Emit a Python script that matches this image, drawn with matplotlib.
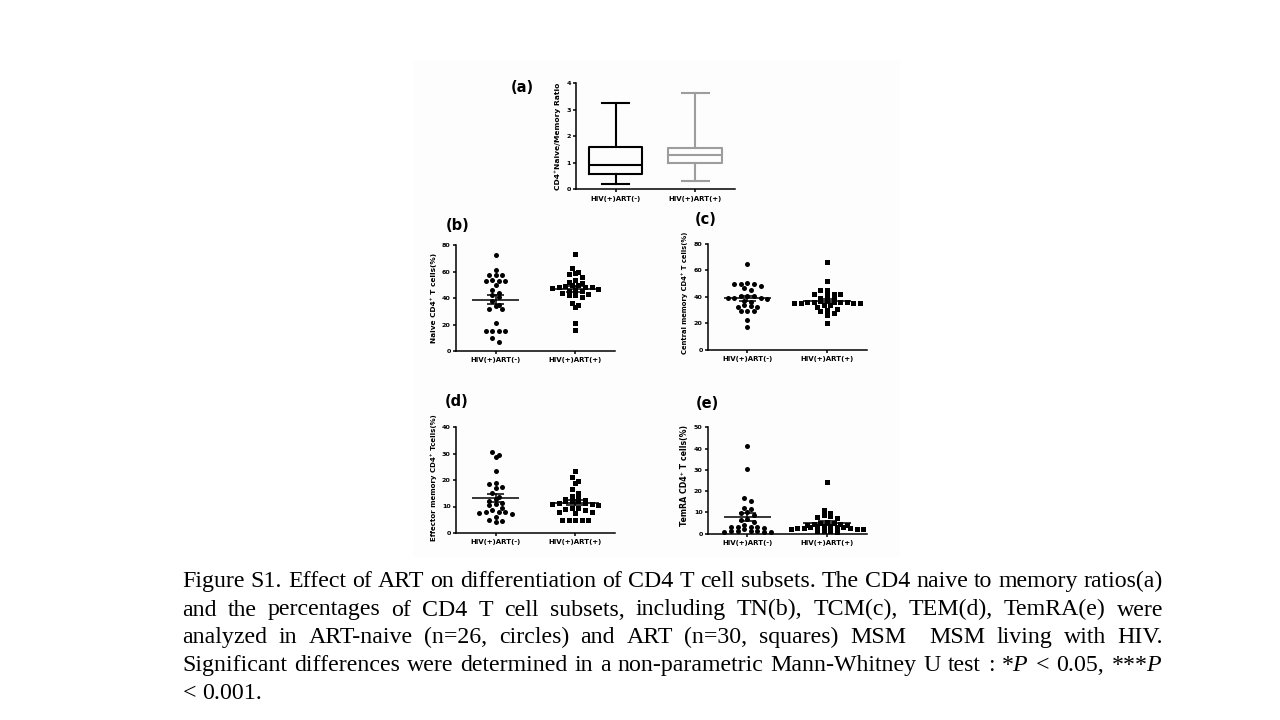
import numpy as np
import matplotlib
matplotlib.use("Agg")
import matplotlib.pyplot as plt
from matplotlib.patches import Rectangle

plt.rcParams['font.family'] = ['DejaVu Sans']
plt.rcParams['mathtext.fontset'] = 'custom'
plt.rcParams['mathtext.rm'] = 'Liberation Serif'
plt.rcParams['mathtext.it'] = 'Liberation Serif:italic'

# ---------------- data ----------------
groups = ["HIV(+)ART(-)", "HIV(+)ART(+)"]

# (a) box plot stats: whislo, q1, med, q3, whishi
ratio_art_neg = dict(whislo=0.20, q1=0.57, med=0.90, q3=1.58, whishi=3.25)
ratio_art_pos = dict(whislo=0.31, q1=0.98, med=1.31, q3=1.55, whishi=3.65)

# (b) Naive CD4+ T cells (%)
naive_neg = [72.5, 61.5, 57.5, 57.5, 57.5, 53.5, 53, 52.5, 52.5, 49.5, 46, 43.5, 42,
             41, 37.5, 35, 34, 32, 32, 21, 15, 15, 15, 15, 9.5, 6.5]
naive_pos = [73, 63, 60, 59, 58, 56, 53.5, 52, 51, 50, 50, 49, 48.5, 48, 48, 47.5, 47,
             46, 45.5, 45, 44, 43, 42.5, 42, 41, 36.5, 34.5, 33, 21, 16]

# (c) Central memory CD4+ T cells (%)
cm_neg = [65, 50.5, 49.5, 49.5, 49.5, 48.5, 46.5, 45, 41, 41, 40.5, 39.5, 39, 39, 38.5,
          37, 36.5, 33.5, 33, 32.5, 32, 29, 29, 29.5, 22.5, 17]
cm_pos = [66, 52, 45, 45, 42.5, 42, 42, 41.5, 39, 38.5, 38, 37, 36.5, 36, 36, 36, 36,
          35.5, 35.5, 35, 35, 34, 33.5, 32, 31, 30, 29, 28, 26.5, 20]

# (d) Effector memory CD4+ T cells (%)
em_neg = [30.5, 29.5, 28.5, 23.5, 19, 18.5, 17.5, 17, 15, 13.5, 13, 12, 11.5, 11, 10.5,
          9.5, 8.5, 8, 8, 8, 7.5, 7, 6, 5, 4.5, 4]
em_pos = [23.5, 21, 19.5, 19, 16.5, 15, 14, 13.5, 13, 12.5, 12, 12, 12, 11.5, 11.5, 11,
          11, 10.5, 9.5, 9.5, 9, 8.5, 8, 8, 7.5, 5, 5, 5, 4.8, 4.8]

# (e) TemRA CD4+ T cells (%)
temra_neg = [41, 30.5, 17, 15.5, 12, 11.5, 10, 9.5, 9, 7, 6.5, 5.5, 4, 3, 3, 3, 3, 2.5,
             2, 1.5, 1.5, 1.5, 1.2, 1, 1, 0.8]
temra_pos = [24.5, 11, 9.5, 9, 8.5, 8, 7.5, 5.5, 5, 5, 4.5, 4.5, 4, 4, 3.5, 3.5, 3.5, 3,
             3, 3, 2.5, 2.5, 2.5, 2, 2, 2, 1.5, 1.5, 1, 1.3]

caption_lines = [
    "Figure S1. Effect of ART on differentiation of CD4 T cell subsets. The CD4 naive to memory ratios(a)",
    "and the percentages of CD4 T cell subsets, including TN(b), TCM(c), TEM(d), TemRA(e) were",
    "analyzed in ART-naive (n=26, circles) and ART (n=30, squares) MSM  MSM living with HIV.",
    "Significant differences were determined in a non-parametric Mann-Whitney U test : *$P$ < 0.05, ***$P$",
    "< 0.001.",
]

# ---------------- figure ----------------
W, H = 1280, 720
fig = plt.figure(figsize=(12.8, 7.2), dpi=100)
fig.patch.set_facecolor("white")

def px_axes(left, right, top, bottom):
    return fig.add_axes([left / W, 1 - bottom / H, (right - left) / W, (bottom - top) / H])

# faint image background
fig.add_artist(Rectangle((413 / W, 1 - 557 / H), (900 - 413) / W, (557 - 60) / H,
                         transform=fig.transFigure, facecolor="#fdfdfd", edgecolor="none", zorder=0))

TICK_FS = 5.0
LW_AX = 1.1

def style_axes(ax, ymax, yticks):
    ax.set_facecolor("none")
    ax.set_xlim(0.5, 2.5)
    ax.set_ylim(0, ymax)
    for s in ("top", "right"):
        ax.spines[s].set_visible(False)
    for s in ("left", "bottom"):
        ax.spines[s].set_linewidth(LW_AX)
    ax.set_yticks(yticks)
    ax.set_xticks([1, 2])
    ax.set_xticklabels(groups, fontsize=TICK_FS, fontweight="bold")
    ax.tick_params(axis="y", length=2.4, width=LW_AX, pad=1.2, labelsize=4.6)
    ax.tick_params(axis="x", length=2.0, width=LW_AX, pad=2.5)
    for lab in ax.get_yticklabels():
        lab.set_fontweight("bold")

def row_offsets(vals, row_h):
    vals = np.asarray(vals, float)
    order = np.argsort(-vals, kind="stable")
    offs = np.zeros(len(vals))
    rows, cur = [], [order[0]]
    for idx in order[1:]:
        if vals[cur[0]] - vals[idx] < row_h:
            cur.append(idx)
        else:
            rows.append(cur)
            cur = [idx]
    rows.append(cur)
    for r in rows:
        n = len(r)
        slots = sorted(range(n), key=lambda k: abs(k - (n - 1) / 2))
        for k, idx in zip(slots, r):
            offs[idx] = k - (n - 1) / 2
    return offs

def scatter_panel(ax, neg, pos, ymax, ax_h_px):
    px_per_unit_x = 159.0 / 2.0
    spacing = 6.6 / px_per_unit_x
    row_h = 4.2 * ymax / ax_h_px
    for i, (vals, mk) in enumerate(((neg, "o"), (pos, "s"))):
        xc = i + 1
        offs = row_offsets(vals, row_h)
        ax.plot(xc + offs * spacing, vals, linestyle="none", marker=mk, markersize=3.6,
                color="black", markeredgewidth=0, clip_on=False, zorder=3)
        v = np.asarray(vals, float)
        m = v.mean()
        sem = v.std(ddof=1) / np.sqrt(len(v))
        ax.plot([xc - 0.3, xc + 0.3], [m, m], color="black", lw=1.1, zorder=4, solid_capstyle="butt")
        ax.plot([xc, xc], [m - sem, m + sem], color="black", lw=1.1, zorder=4)
        for yy in (m - sem, m + sem):
            ax.plot([xc - 0.11, xc + 0.11], [yy, yy], color="black", lw=1.1, zorder=4,
                    solid_capstyle="butt")

def ylabel_px(text, xc, top, bottom, fs):
    fig.text(xc / W, 1 - (top + bottom) / 2 / H, text, rotation=90, ha="center", va="center",
             fontsize=fs, fontweight="bold")

def panel_label(text, left, yc):
    fig.text(left / W, 1 - yc / H, text, ha="left", va="center", fontsize=10.5, fontweight="bold")

# (a) box plot
axa = px_axes(575.7, 735, 83.3, 189.3)
style_axes(axa, 4, [0, 1, 2, 3, 4])
for i, (st, col) in enumerate(((ratio_art_neg, "black"), (ratio_art_pos, "#9d9d9d"))):
    s = dict(st)
    s["fliers"] = []
    axa.bxp([s], positions=[i + 1], widths=0.67, showfliers=False, patch_artist=False,
            boxprops=dict(color=col, lw=1.5), whiskerprops=dict(color=col, lw=1.5),
            capprops=dict(color=col, lw=1.5), medianprops=dict(color=col, lw=1.5),
            capwidths=0.34, manage_ticks=False)
axa.set_xticks([1, 2])
axa.set_xticklabels(groups, fontsize=TICK_FS, fontweight="bold")
ylabel_px("CD4\u207aNaive/Memory Ratio", 558, 83.3, 189.3, 5.4)
panel_label("(a)", 511, 88)

# (b)
axb = px_axes(455.7, 615, 245, 351)
style_axes(axb, 80, [0, 20, 40, 60, 80])
scatter_panel(axb, naive_neg, naive_pos, 80, 106)
ylabel_px("Naive CD4\u207a T cells(%)", 434, 245, 351, 5.3)
panel_label("(b)", 446, 225)

# (c)
axc = px_axes(707.7, 866.7, 243.7, 350)
style_axes(axc, 80, [0, 20, 40, 60, 80])
scatter_panel(axc, cm_neg, cm_pos, 80, 106)
ylabel_px("Central memory CD4\u207a T cells(%)", 685, 235, 350, 4.9)
panel_label("(c)", 695, 220)

# (d)
axd = px_axes(455.7, 615, 427, 533)
style_axes(axd, 40, [0, 10, 20, 30, 40])
scatter_panel(axd, em_neg, em_pos, 40, 106)
ylabel_px("Effector memory CD4\u207a Tcells(%)", 434, 418, 538, 5.0)
panel_label("(d)", 445, 401)

# (e)
axe = px_axes(707.7, 866.7, 427.3, 533.7)
style_axes(axe, 50, [0, 10, 20, 30, 40, 50])
scatter_panel(axe, temra_neg, temra_pos, 50, 106)
ylabel_px("TemRA CD4\u207a T cells(%)", 685, 422, 528, 5.7)
panel_label("(e)", 696, 403)

# ---------------- caption (justified) ----------------
CAP_FS = 17.2
cap_left, cap_right = 182.3, 1163.0
baselines = [587.3, 615.5, 643.3, 671.0, 699.3]
renderer = fig.canvas.get_renderer()
sp = fig.text(0, 0, "a b", fontsize=CAP_FS, family="Liberation Serif")
sp2 = fig.text(0, 0, "ab", fontsize=CAP_FS, family="Liberation Serif")
space_w = sp.get_window_extent(renderer).width - sp2.get_window_extent(renderer).width
sp.remove(); sp2.remove()
for li, (line, yb) in enumerate(zip(caption_lines, baselines)):
    words = line.split(" ")
    objs = []
    for w in words:
        t = fig.text(0, 1 - yb / H, w, ha="left", va="baseline",
                     fontsize=CAP_FS, family="Liberation Serif", color="black")
        objs.append(t)
    widths = [(o.get_window_extent(renderer).width if o.get_text() else 0.0) for o in objs]
    ngaps = len(words) - 1
    if li < len(caption_lines) - 1 and ngaps > 0:
        gap = (cap_right - cap_left - sum(widths)) / ngaps
        gap = max(gap, 0.5 * space_w)
    else:
        gap = space_w
    x = cap_left
    for o, wdt in zip(objs, widths):
        o.set_x(x / W)
        x += wdt + gap

fig.savefig("out.png", dpi=100, facecolor="white")
